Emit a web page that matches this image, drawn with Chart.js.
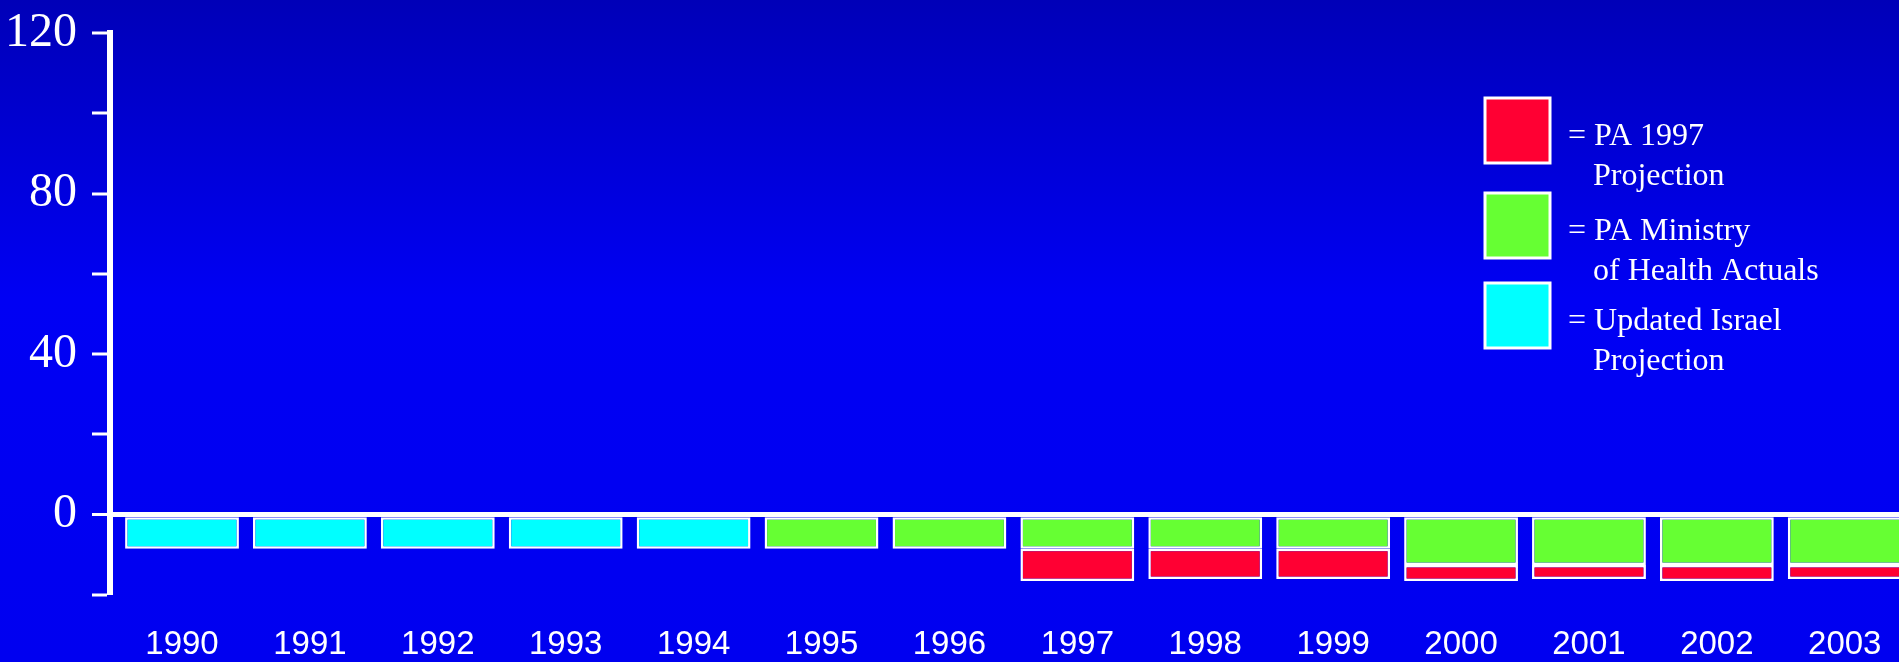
<!DOCTYPE html>
<html>
<head>
<meta charset="utf-8">
<script src="https://cdn.jsdelivr.net/npm/chart.js@4/dist/chart.umd.min.js"></script>
<style>
    html, body { margin: 0; padding: 0; overflow: hidden; background: #0000e0; }
    #wrap { width: 1899px; height: 662px; position: relative; }
</style>
</head>
<body>
<div id="wrap"><canvas id="chart"></canvas></div>
<script>
// Données
const years = [1990, 1991, 1992, 1993, 1994, 1995, 1996, 1997, 1998, 1999, 2000, 2001, 2002, 2003];
const israelUpdated = [-8.5, -8.5, -8.5, -8.5, -8.5, null, null, null, null, null, null, null, null, null];
const mohActuals = [null, null, null, null, null, -8.5, -8.5, -8.5, -8.5, -8.5, -12.5, -12.5, -12.5, -12.5];
const pa1997 = [null, null, null, null, null, null, null, -8, -7.5, -7.5, -4, -3.5, -4, -3.5];
const yTickLabels = [0, 40, 80, 120];

const COLORS = {
    red: '#ff0033',
    green: '#66ff33',
    cyan: '#00ffff',
    white: '#ffffff'
};

const toPoints = values => years.map((y, i) => ({ x: y, y: values[i] }));

// Fond dégradé bleu
const backgroundPlugin = {
    id: 'gradientBg',
    beforeDraw(chart) {
        const ctx = chart.ctx;
        const g = ctx.createLinearGradient(0, 0, 0, chart.height);
        g.addColorStop(0, '#0000b8');
        g.addColorStop(0.45, '#0000f4');
        g.addColorStop(1, '#0000f0');
        ctx.save();
        ctx.fillStyle = g;
        ctx.fillRect(0, 0, chart.width, chart.height);
        ctx.restore();
    }
};

// Légende à gros carrés, dessinée à la main
const legendPlugin = {
    id: 'bigLegend',
    afterDraw(chart) {
        const ctx = chart.ctx;
        const order = [2, 1, 0];
        const tops = [98, 193, 283];
        ctx.save();
        order.forEach((dsIndex, i) => {
            const ds = chart.data.datasets[dsIndex];
            const top = tops[i];
            ctx.fillStyle = ds.backgroundColor;
            ctx.fillRect(1485, top, 65, 65);
            ctx.strokeStyle = COLORS.white;
            ctx.lineWidth = 3;
            ctx.strokeRect(1485, top, 65, 65);
            ctx.fillStyle = COLORS.white;
            ctx.font = '32px "Liberation Serif", "Times New Roman", serif';
            ctx.textBaseline = 'alphabetic';
            ctx.fillText('= ' + ds.legendLines[0], 1568, top + 47);
            ctx.fillText(ds.legendLines[1], 1593, top + 87);
        });
        ctx.restore();
    }
};

const barStyle = {
    borderColor: COLORS.white,
    borderWidth: 2.5,
    borderSkipped: false,
    categoryPercentage: 0.89,
    barPercentage: 1
};

new Chart(document.getElementById('chart'), {
    type: 'bar',
    data: {
        datasets: [
            { label: 'Updated Israel Projection', legendLines: ['Updated Israel', 'Projection'],
              data: toPoints(israelUpdated), backgroundColor: COLORS.cyan, ...barStyle },
            { label: 'PA Ministry of Health Actuals', legendLines: ['PA Ministry', 'of Health Actuals'],
              data: toPoints(mohActuals), backgroundColor: COLORS.green, ...barStyle },
            { label: 'PA 1997 Projection', legendLines: ['PA 1997', 'Projection'],
              data: toPoints(pa1997), backgroundColor: COLORS.red, ...barStyle }
        ]
    },
    options: {
        responsive: true,
        maintainAspectRatio: false,
        animation: false,
        layout: { padding: { top: 33, right: 0, left: 0, bottom: 0 } },
        plugins: {
            legend: { display: false },
            tooltip: { enabled: false }
        },
        scales: {
            x: {
                type: 'linear',
                stacked: true,
                offset: false,
                min: 1989.437,
                max: 2003.424,
                grid: { display: false, offset: false },
                border: { display: false },
                ticks: {
                    stepSize: 1,
                    includeBounds: false,
                    autoSkip: false,
                    maxRotation: 0,
                    padding: 22,
                    color: COLORS.white,
                    font: { family: '"Liberation Sans", Arial, sans-serif', size: 33 },
                    callback: v => (Number.isInteger(v) ? String(v) : '')
                },
                afterFit: scale => {
                    scale.height = 67;
                    scale.paddingRight = 0;
                }
            },
            y: {
                stacked: true,
                min: -20,
                max: 120,
                border: { display: true, color: COLORS.white, width: 6 },
                grid: {
                    drawOnChartArea: true,
                    color: c => (c.tick && c.tick.value === 0 ? COLORS.white : 'rgba(0,0,0,0)'),
                    lineWidth: c => (c.tick && c.tick.value === 0 ? 5 : 0),
                    drawTicks: true,
                    tickLength: 18,
                    tickColor: COLORS.white,
                    tickWidth: 3
                },
                ticks: {
                    stepSize: 20,
                    padding: 15,
                    color: COLORS.white,
                    font: { family: '"Liberation Serif", "Times New Roman", serif', size: 48 },
                    callback: v => (yTickLabels.includes(v) ? String(v) : '')
                },
                afterFit: scale => {
                    scale.width = 110;
                    scale.paddingTop = 0;
                    scale.paddingBottom = 0;
                }
            }
        }
    },
    plugins: [backgroundPlugin, legendPlugin]
});
</script>
</body>
</html>
